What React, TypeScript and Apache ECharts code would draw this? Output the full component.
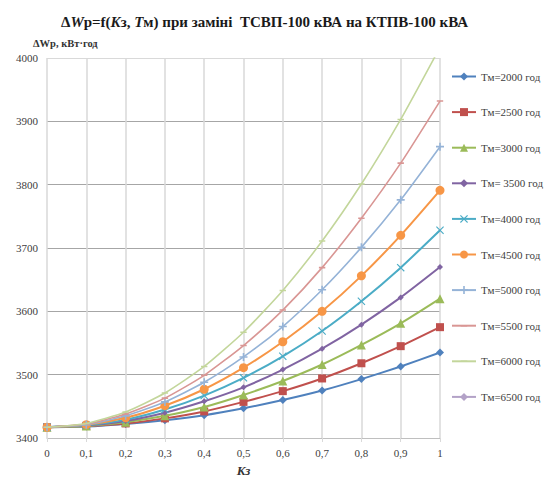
import React, { useEffect, useRef } from "react";
import * as echarts from "echarts";

const kz = [0, 0.1, 0.2, 0.3, 0.4, 0.5, 0.6, 0.7, 0.8, 0.9, 1];
const seriesNames = [
  "Тм=2000 год",
  "Тм=2500 год",
  "Тм=3000 год",
  "Тм= 3500 год",
  "Тм=4000 год",
  "Тм=4500 год",
  "Тм=5000 год",
  "Тм=5500 год",
  "Тм=6000 год",
  "Тм=6500 год",
];
const tm2000 = [3417, 3418, 3422, 3428, 3436, 3447, 3460, 3475, 3493, 3513, 3535];
const tm2500 = [3417, 3419, 3423, 3431, 3442, 3457, 3474, 3494, 3518, 3545, 3575];
const tm3000 = [3417, 3419, 3425, 3435, 3449, 3468, 3490, 3516, 3547, 3581, 3620];
const tm3500 = [3417, 3420, 3427, 3440, 3458, 3480, 3508, 3541, 3579, 3622, 3670];
const tm4000 = [3417, 3420, 3429, 3445, 3467, 3495, 3529, 3569, 3616, 3669, 3728];
const tm4500 = [3417, 3421, 3432, 3451, 3477, 3511, 3552, 3600, 3656, 3720, 3791];
const tm5000 = [3417, 3421, 3435, 3457, 3488, 3528, 3576, 3634, 3701, 3776, 3860];
const tm5500 = [3417, 3422, 3438, 3463, 3499, 3546, 3602, 3669, 3747, 3834, 3932];
const tm6000 = [3417, 3423, 3441, 3471, 3513, 3567, 3633, 3711, 3801, 3903, 4017];
const tm6500: number[] = [];
const allValues = [tm2000, tm2500, tm3000, tm3500, tm4000, tm4500, tm5000, tm5500, tm6000, tm6500];

const colors = ["#4F81BD", "#C0504D", "#9BBB59", "#8064A2", "#4BACC6", "#F79646", "#95B3D7", "#D99694", "#C3D69B", "#B3A2C7"];
const crossPath = "path://M0,1L1,0L5,4L9,0L10,1L6,5L10,9L9,10L5,6L1,10L0,9L4,5Z";
const plusPath = "path://M4,0H6V4H10V6H6V10H4V6H0V4H4Z";
const dashPath = "path://M0,0L0,0ZM10,10L10,10ZM1,4H9V6H1Z";
const symbols = ["diamond", "rect", "triangle", "diamond", crossPath, "circle", plusPath, dashPath, dashPath, "diamond"];
const sizes = [8, 8, 9, 6, 8, 9, 8, 8, 8, 6];
const widths = [2, 2, 2, 2, 2, 2, 1.6, 1.6, 1.6, 1.6];

const serif = "Times New Roman, Liberation Serif, serif";

export default function App() {
  const ref = useRef<HTMLDivElement>(null);
  useEffect(() => {
    document.body.style.margin = "0";
    const chart = echarts.init(ref.current!, null, { renderer: "svg" });
    chart.setOption({
      animation: false,
      backgroundColor: "#ffffff",
      textStyle: { fontFamily: serif },
      title: {
        text: "{b|Δ}{bi|W}{b|р=f(}{bi|K}{b|з, }{bi|T}{b|м) при заміні  ТСВП-100 кВА на КТПВ-100 кВА}",
        left: 56,
        top: 9,
        textStyle: {
          fontFamily: serif,
          rich: {
            b: { fontFamily: serif, fontWeight: "bold", fontSize: 15, color: "#1a1a1a" },
            bi: { fontFamily: serif, fontWeight: "bold", fontStyle: "italic", fontSize: 15, color: "#1a1a1a" },
          },
        },
      },
      graphic: [
        {
          type: "text",
          left: 33,
          top: 38,
          style: {
            text: "ΔWр, кВт·год",
            font: "bold 10.5px " + serif,
            fill: "#333",
          },
        },
      ],
      legend: {
        orient: "vertical",
        left: 446,
        top: 66,
        itemWidth: 24,
        itemHeight: 10,
        itemGap: 24.6,
        data: seriesNames,
        textStyle: { fontFamily: serif, fontSize: 11, color: "#404040" },
      },
      grid: { left: 47, right: 107, top: 58, bottom: 42 },
      xAxis: {
        type: "value",
        min: 0,
        max: 1,
        interval: 0.1,
        name: "Kз",
        nameLocation: "middle",
        nameGap: 26,
        nameTextStyle: { fontFamily: serif, fontWeight: "bold", fontStyle: "italic", fontSize: 13, color: "#333" },
        axisLine: { lineStyle: { color: "#bfbfbf" } },
        axisTick: { show: true, length: 4, lineStyle: { color: "#d9d9d9" } },
        axisLabel: {
          fontFamily: serif,
          fontSize: 11,
          color: "#404040",
          margin: 9,
          formatter: (v: number) => {
            const r = Math.round(v * 10) / 10;
            return r === 0 || r === 1 ? String(r) : r.toFixed(1).replace(".", ",");
          },
        },
        splitLine: { show: true, lineStyle: { color: "#d9d9d9", width: 1.5 } },
      },
      yAxis: {
        type: "value",
        min: 3400,
        max: 4000,
        interval: 100,
        axisLine: { show: false },
        axisTick: { show: false },
        axisLabel: {
          fontFamily: serif,
          fontSize: 11,
          color: "#404040",
          margin: 9,
          formatter: (v: number) => String(Math.round(v)),
        },
        splitLine: {
          show: true,
          lineStyle: { color: ["#a6a6a6", "#a6a6a6", "#a6a6a6", "#a6a6a6", "#a6a6a6", "#a6a6a6", "#d9d9d9"] },
        },
      },
      series: seriesNames.map((name, i) => ({
        name,
        type: "line",
        data: allValues[i].map((v, j) => [kz[j], v]),
        color: colors[i],
        symbol: symbols[i],
        symbolSize: sizes[i],
        symbolKeepAspect: true,
        showAllSymbol: true,
        smooth: 0.2,
        clip: true,
        lineStyle: { width: widths[i], color: colors[i] },
        itemStyle: { color: colors[i], borderWidth: 0 },
        z: 2 + i,
      })),
    });
    return () => chart.dispose();
  }, []);
  return <div ref={ref} style={{ width: 547, height: 482 }} />;
}
